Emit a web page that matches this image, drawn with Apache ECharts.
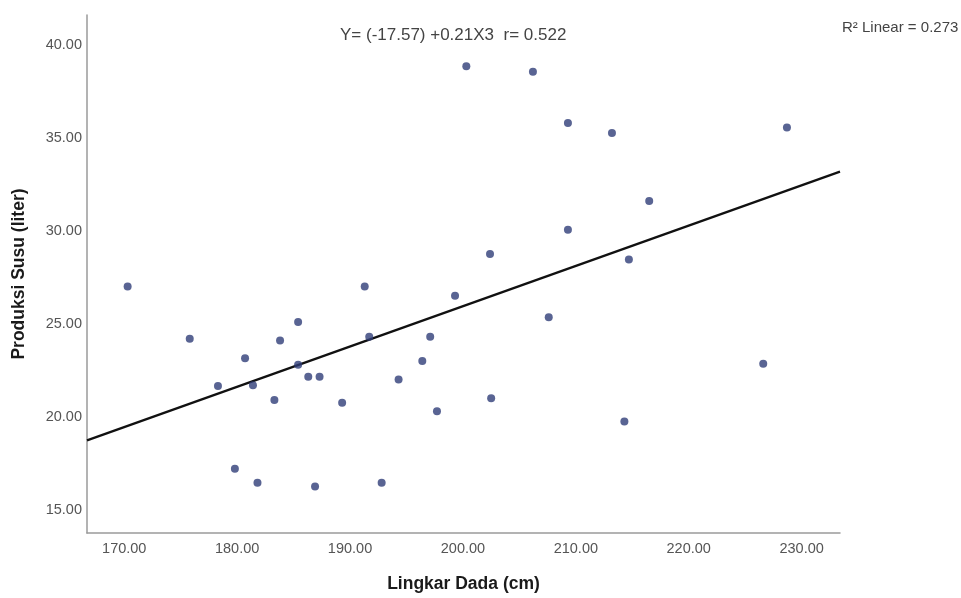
<!DOCTYPE html>
<html>
<head>
<meta charset="utf-8">
<script src="https://cdn.jsdelivr.net/npm/echarts@6/dist/echarts.min.js"></script>
<style>
html,body{margin:0;padding:0;background:#fff;}
#main{width:961px;height:598px;}
</style>
</head>
<body>
<div id="main"></div>
<script>
// Lingkar Dada (cm)
const chestGirth = [170.3, 175.8, 178.3, 179.8, 180.7, 181.4, 181.8, 183.3, 183.8, 185.4,
  185.4, 186.3, 186.9, 187.3, 189.3, 191.7, 191.3, 192.8, 194.3, 196.4,
  197.1, 197.7, 199.3, 200.3, 202.4, 202.5, 206.2, 207.6, 209.3, 209.3,
  213.2, 214.3, 214.7, 216.5, 226.6, 228.7];
// Produksi Susu (liter)
const milkYield = [27.0, 24.2, 21.65, 17.2, 23.15, 21.7, 16.45, 20.9, 24.1, 25.1,
  22.8, 22.15, 16.25, 22.15, 20.75, 24.3, 27.0, 16.45, 22.0, 23.0,
  24.3, 20.3, 26.5, 38.85, 28.75, 21.0, 38.55, 25.35, 35.8, 30.05,
  35.25, 19.75, 28.45, 31.6, 22.85, 35.55];
// fit line endpoints
const fitX = [166.7, 233.4];
const fitY = [18.73, 33.18];
const equationText = 'Y= (-17.57) +0.21X3  r= 0.522';
const r2Text = 'R\u00B2 Linear = 0.273';

const points = chestGirth.map((x, i) => [x, milkYield[i]]);
const fitLine = fitX.map((x, i) => [x, fitY[i]]);

const chart = echarts.init(document.getElementById('main'));
const labelFont = 'Liberation Sans, Arial, sans-serif';
chart.setOption({
  animation: false,
  backgroundColor: '#fff',
  grid: {left: 87, right: 121, top: 15, bottom: 61, containLabel: false},
  xAxis: {
    type: 'value', min: 166.7, max: 233.4,
    name: 'Lingkar Dada (cm)', nameLocation: 'middle', nameGap: 42,
    nameTextStyle: {fontFamily: labelFont, fontWeight: 'bold', fontSize: 17.5, color: '#1a1a1a'},
    axisLine: {show: true, lineStyle: {color: '#9a9a9a', width: 1.5}},
    axisTick: {show: false}, splitLine: {show: false},
    axisLabel: {
      fontFamily: labelFont, fontSize: 14.5, color: '#555', margin: 8,
      formatter: v => (Math.abs(v % 10) < 1e-6 ? v.toFixed(2) : '')
    }
  },
  yAxis: {
    type: 'value', min: 13.75, max: 41.6,
    name: 'Produksi Susu (liter)', nameLocation: 'middle', nameGap: 59,
    nameTextStyle: {fontFamily: labelFont, fontWeight: 'bold', fontSize: 17.5, color: '#1a1a1a'},
    axisLine: {show: true, lineStyle: {color: '#9a9a9a', width: 1.5}},
    axisTick: {show: false}, splitLine: {show: false},
    axisLabel: {
      fontFamily: labelFont, fontSize: 14.5, color: '#555', margin: 5,
      formatter: v => (Math.abs(v % 5) < 1e-6 ? v.toFixed(2) : '')
    }
  },
  series: [
    {
      type: 'line', data: fitLine, symbol: 'none', silent: true,
      lineStyle: {color: '#111', width: 2.3}, z: 2
    },
    {
      type: 'scatter', data: points, symbol: 'circle', symbolSize: 8,
      itemStyle: {color: '#2f3d78'}, z: 3
    }
  ],
  graphic: [
    {type: 'text', left: 340, top: 27, style: {text: equationText, fontFamily: labelFont, fontSize: 17, fill: '#444'}},
    {type: 'text', left: 842, top: 20, style: {text: r2Text, fontFamily: labelFont, fontSize: 15, fill: '#444'}}
  ]
});
</script>
</body>
</html>
